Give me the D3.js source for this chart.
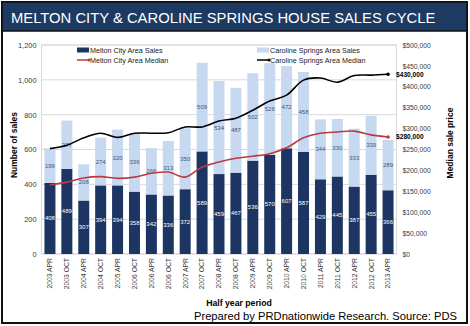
<!DOCTYPE html>
<html>
<head>
<meta charset="utf-8">
<script src="https://cdn.jsdelivr.net/npm/d3@7"></script>
<style>
  body { margin: 0; background: #fff; }
  svg { display: block; font-family: "Liberation Sans", Arial, sans-serif; }
</style>
</head>
<body>
<div id="chart"></div>
<script>
// half year periods (labels as printed on the chart)
var periods = ["2003 APR", "2003 OCT", "2004 APR", "2004 OCT", "2005 APR", "2006 OCT",
    "2006 APR", "2006 OCT ", "2007 APR", "2007 OCT", "2008 APR", "2008 OCT", "2009 APR",
    "2009 OCT", "2010 APR", "2010 OCT", "2011 APR", "2011 OCT", "2012 APR", "2012 OCT", "2013 APR"];

// number of sales
var meltonSales = [408, 489, 307, 394, 394, 358, 342, 336, 372, 589, 459, 467, 536,
    570, 607, 587, 429, 445, 387, 455, 366];
var carolineSales = [199, 277, 208, 274, 320, 336, 266, 313, 350, 509, 534, 487, 502,
    526, 472, 458, 344, 330, 333, 339, 289];

// median sale price
var meltonMedian = [165000, 172000, 182000, 185000, 181000, 184000, 193000, 196000, 184000,
    208000, 220000, 229000, 234000, 240000, 254000, 278000, 289000, 292000, 294000, 285000, 280000];
var carolineMedian = [252000, 260000, 278000, 289000, 279000, 289000, 289000, 290000, 304000,
    304000, 318000, 325000, 344000, 366000, 380000, 416000, 421000, 411000, 427000, 428000, 430000];

var salesTicks = [0, 200, 400, 600, 800, 1000, 1200];
var priceTicks = [0, 50000, 100000, 150000, 200000, 250000, 300000, 350000, 400000, 450000, 500000];

var darkBlue = "#1c3563";
var lightBlue = "#c6d9f0";
var redLine = "#bb3a42";

var svgWidth = 470, svgHeight = 326;
var plot = { left: 41.5, right: 396.5, top: 45, bottom: 254 };

var svg = d3.select("#chart").append("svg")
    .attr("width", svgWidth)
    .attr("height", svgHeight);

// frame + title bar
svg.append("rect")
    .attr("x", 2).attr("y", 2)
    .attr("width", 465).attr("height", 321)
    .attr("fill", "#fff")
    .attr("stroke", "#111").attr("stroke-width", 2);

svg.append("rect")
    .attr("x", 2).attr("y", 2)
    .attr("width", 465).attr("height", 29)
    .attr("fill", "#1d3a62")
    .attr("stroke", "#111").attr("stroke-width", 1.5);

svg.append("text")
    .attr("x", 11).attr("y", 22.5)
    .attr("fill", "#fff")
    .style("font-size", "14.8px")
    .text("MELTON CITY & CAROLINE SPRINGS HOUSE SALES CYCLE");

// scales
var x = d3.scaleBand()
    .domain(periods)
    .range([plot.left, plot.right])
    .paddingInner(0.35)
    .paddingOuter(0.175);

var y = d3.scaleLinear().domain([0, 1200]).range([plot.bottom, plot.top]);
var y2 = d3.scaleLinear().domain([0, 500000]).range([plot.bottom, plot.top]);

// gridlines
svg.append("g").selectAll("line")
    .data(salesTicks)
    .enter().append("line")
    .attr("x1", plot.left).attr("x2", plot.right)
    .attr("y1", d => y(d)).attr("y2", d => y(d))
    .attr("stroke", "#d9d9d9").attr("stroke-width", 1);

svg.append("rect")
    .attr("x", plot.left).attr("y", plot.top)
    .attr("width", plot.right - plot.left).attr("height", plot.bottom - plot.top)
    .attr("fill", "none").attr("stroke", "#d9d9d9");

// axes
var leftAxis = svg.append("g")
    .attr("transform", `translate(${plot.left}, 0)`)
    .call(d3.axisLeft(y).tickValues(salesTicks).tickSize(0).tickPadding(5).tickFormat(d3.format(",")));
var rightAxis = svg.append("g")
    .attr("transform", `translate(${plot.right}, 0)`)
    .call(d3.axisRight(y2).tickValues(priceTicks).tickSize(0).tickPadding(6).tickFormat(d3.format("$,")));
var bottomAxis = svg.append("g")
    .attr("transform", `translate(0, ${plot.bottom})`)
    .call(d3.axisBottom(x).tickSize(0).tickFormat(d => d.trim()));

[leftAxis, rightAxis, bottomAxis].forEach(a => {
    a.select(".domain").remove();
    a.selectAll("text").attr("fill", "#3a3a3a").style("font-family", "Liberation Sans, Arial, sans-serif");
});
leftAxis.selectAll("text").style("font-size", "7.4px");
rightAxis.selectAll("text").style("font-size", "6.8px");
bottomAxis.selectAll("text")
    .style("font-size", "6.8px")
    .attr("transform", "rotate(-90)")
    .attr("text-anchor", "end")
    .attr("x", -4).attr("y", 0).attr("dy", "0.35em");

// stacked bars
var stacked = periods.map((p, i) => ({ period: p, melton: meltonSales[i], caroline: carolineSales[i] }));

var bars = svg.append("g");
bars.selectAll(".melton")
    .data(stacked).enter().append("rect")
    .attr("x", d => x(d.period))
    .attr("width", x.bandwidth())
    .attr("y", d => y(d.melton))
    .attr("height", d => y(0) - y(d.melton))
    .attr("fill", darkBlue);

bars.selectAll(".caroline")
    .data(stacked).enter().append("rect")
    .attr("x", d => x(d.period))
    .attr("width", x.bandwidth())
    .attr("y", d => y(d.melton + d.caroline))
    .attr("height", d => y(d.melton) - y(d.melton + d.caroline))
    .attr("fill", lightBlue);

// bar value labels
var cx = d => x(d.period) + x.bandwidth() / 2;
bars.selectAll(".mlabel")
    .data(stacked).enter().append("text")
    .attr("x", cx)
    .attr("y", d => y(d.melton / 2) + 2)
    .attr("text-anchor", "middle")
    .attr("fill", "#fff")
    .style("font-size", "6px")
    .text(d => d.melton);

bars.selectAll(".clabel")
    .data(stacked).enter().append("text")
    .attr("x", cx)
    .attr("y", d => y(d.melton + d.caroline / 2) + 2)
    .attr("text-anchor", "middle")
    .attr("fill", "#3b5683")
    .style("font-size", "6px")
    .text(d => d.caroline);

// median lines
var line = d3.line()
    .x((d, i) => x(periods[i]) + x.bandwidth() / 2)
    .y(d => y2(d))
    .curve(d3.curveCatmullRom.alpha(0.5));

svg.append("path")
    .datum(meltonMedian)
    .attr("d", line)
    .attr("fill", "none")
    .attr("stroke", redLine)
    .attr("stroke-width", 1.6);

svg.append("path")
    .datum(carolineMedian)
    .attr("d", line)
    .attr("fill", "none")
    .attr("stroke", "#000")
    .attr("stroke-width", 1.6);

// end markers and labels
var last = periods.length - 1;
[[meltonMedian, redLine], [carolineMedian, "#000"]].forEach(s => {
    var lx = x(periods[last]) + x.bandwidth() / 2;
    svg.append("circle")
        .attr("cx", lx).attr("cy", y2(s[0][last]))
        .attr("r", 1.8).attr("fill", s[1]);
    svg.append("text")
        .attr("x", lx + 8).attr("y", y2(s[0][last]) + 2.3)
        .style("font-size", "6.6px").style("font-weight", "bold")
        .text(d3.format("$,")(s[0][last]));
});

// legend
var legendItems = [
    { label: "Melton City Area Sales", type: "bar", color: darkBlue, x: 77, y: 50 },
    { label: "Melton City Area Median", type: "line", color: redLine, x: 77, y: 60 },
    { label: "Caroline Springs Area Sales", type: "bar", color: lightBlue, x: 257, y: 50 },
    { label: "Caroline Springs Area Median", type: "line", color: "#000", x: 257, y: 60 }
];
var legend = svg.append("g").selectAll("g")
    .data(legendItems).enter().append("g")
    .attr("transform", d => `translate(${d.x}, ${d.y})`);

legend.filter(d => d.type === "bar").append("rect")
    .attr("x", 0).attr("y", -2.5).attr("width", 12).attr("height", 5)
    .attr("fill", d => d.color);
legend.filter(d => d.type === "line").append("line")
    .attr("x1", 0).attr("x2", 12).attr("y1", 0).attr("y2", 0)
    .attr("stroke", d => d.color).attr("stroke-width", 1.5);
legend.filter(d => d.type === "line").append("circle")
    .attr("cx", 12).attr("cy", 0).attr("r", 1.5)
    .attr("fill", d => d.color);
legend.append("text")
    .attr("x", 13).attr("y", 2.5)
    .attr("fill", "#222")
    .style("font-size", "7.2px")
    .text(d => d.label);

// axis titles
svg.append("text")
    .attr("transform", "translate(17, 145) rotate(-90)")
    .attr("text-anchor", "middle")
    .style("font-size", "8.5px").style("font-weight", "bold")
    .text("Number of sales");

svg.append("text")
    .attr("transform", "translate(453, 143) rotate(-90)")
    .attr("text-anchor", "middle")
    .style("font-size", "8.5px").style("font-weight", "bold")
    .text("Median sale price");

svg.append("text")
    .attr("x", 239).attr("y", 306)
    .attr("text-anchor", "middle")
    .style("font-size", "8.7px").style("font-weight", "bold")
    .text("Half year period");

svg.append("text")
    .attr("x", 457).attr("y", 320)
    .attr("text-anchor", "end")
    .style("font-size", "11.2px")
    .text("Prepared by PRDnationwide Research. Source: PDS");
</script>
</body>
</html>
